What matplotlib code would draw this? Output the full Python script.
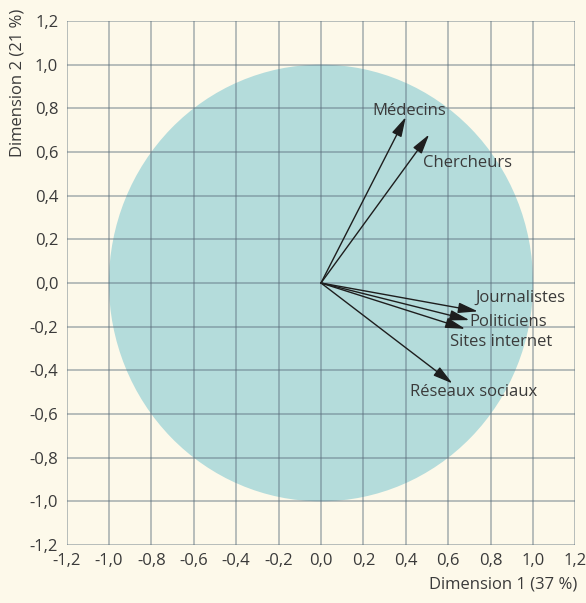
import numpy as np
import matplotlib.pyplot as plt
from matplotlib.patches import Circle

plt.rcParams['font.family'] = ['Open Sans', 'DejaVu Sans']

# variables and their coordinates on dimensions 1 and 2
names = ['Médecins', 'Chercheurs', 'Journalistes', 'Politiciens', 'Sites internet', 'Réseaux sociaux']
dim1 = [0.40, 0.51, 0.74, 0.70, 0.68, 0.62]
dim2 = [0.76, 0.68, -0.13, -0.17, -0.21, -0.46]
# where each label sits (left edge, vertical centre)
lab_x = [0.24, 0.48, 0.73, 0.70, 0.61, 0.42]
lab_y = [0.79, 0.55, -0.07, -0.18, -0.27, -0.50]

ticks = np.round(np.arange(-1.2, 1.21, 0.2), 1)
ticklabels = ['{:.1f}'.format(t + 0.0).replace('.', ',') if abs(t) > 1e-9 else '0,0' for t in ticks]

bg = '#fdf9ea'
fig = plt.figure(figsize=(5.86, 6.03), dpi=100, facecolor=bg)
ax = fig.add_axes([0.1135, 0.0962, 0.8685, 0.8690])
ax.set_facecolor(bg)

ax.add_patch(Circle((0, 0), 1.0, facecolor='#b4dcdb', edgecolor='none', zorder=0))

ax.set_xlim(-1.2, 1.2)
ax.set_ylim(-1.2, 1.2)
ax.set_xticks(ticks)
ax.set_yticks(ticks)
ax.set_xticklabels(ticklabels)
ax.set_yticklabels(ticklabels)
ax.tick_params(length=0, pad=6, labelsize=12, colors='#3a3a3a')
ax.grid(True, color='#5a6e7c', alpha=0.5, linewidth=1.2, zorder=1)
ax.set_axisbelow(False)
for s in ax.spines.values():
    s.set_visible(False)

for i in range(len(names)):
    ax.annotate('', xy=(dim1[i], dim2[i]), xytext=(0, 0),
                arrowprops=dict(arrowstyle='-|>,head_length=1.2,head_width=0.32',
                                color='#1e1e1e', lw=1.0, shrinkA=0, shrinkB=0),
                zorder=3)
    ax.text(lab_x[i], lab_y[i], names[i], fontsize=12, color='#3a3a3a',
            ha='left', va='center', zorder=4)

fig.text(0.03, 0.985, 'Dimension 2 (21 %)', rotation=90, ha='center', va='top',
         fontsize=12, color='#3a3a3a')
fig.text(0.985, 0.017, 'Dimension 1 (37 %)', ha='right', va='bottom',
         fontsize=12, color='#3a3a3a')

fig.savefig('out.png', dpi=100, facecolor=bg)
